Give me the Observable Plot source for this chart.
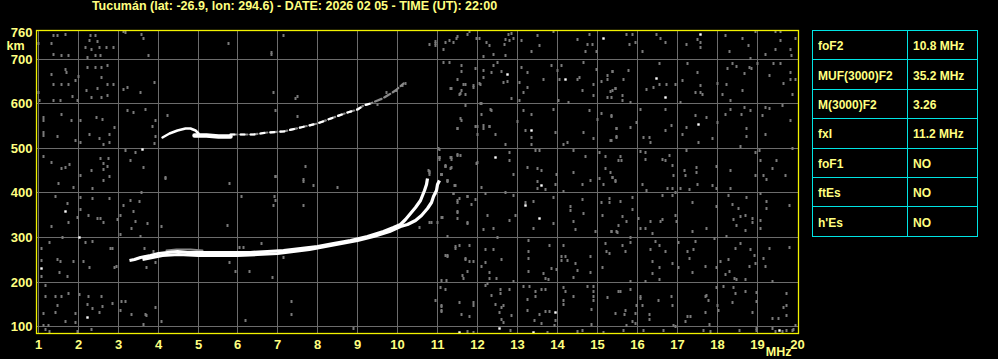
<!DOCTYPE html>
<html><head><meta charset="utf-8">
<script src="https://cdn.jsdelivr.net/npm/d3@7"></script>
<script src="https://cdn.jsdelivr.net/npm/@observablehq/plot@0.6"></script>
<style>
html,body{margin:0;padding:0;background:#000;}
#wrap{position:relative;width:998px;height:359px;overflow:hidden;background:#000;font-family:"Liberation Sans",Arial,sans-serif;font-weight:bold;}
#title{position:absolute;left:0;top:0;width:589px;text-align:center;color:#ffff80;font-size:12.5px;line-height:1;white-space:nowrap;}
#chart{position:absolute;left:0;top:0;}
#tbl{position:absolute;left:812px;top:30px;border-collapse:collapse;table-layout:fixed;color:#ffff80;font-size:12px;}
#tbl td{border:1px solid #00e4e4;height:29.4px;padding:2px 0 0 5px;vertical-align:middle;white-space:nowrap;box-sizing:border-box;}
</style></head>
<body><div id="wrap"><div id="chart"></div><div id="title"></div><table id="tbl"><colgroup><col style="width:95px"><col style="width:70px"></colgroup><tbody></tbody></table></div>
<script>
const titleText = "Tucumán (lat: -26.9, lon: 294.6) - DATE: 2026 02 05 - TIME (UT): 22:00";
const xTicks = [1,2,3,4,5,6,7,8,9,10,11,12,13,14,15,16,17,18,19,20];
const yTicks = [100,200,300,400,500,600,700,760];
const gridXValues = [1,2,3,4,5,6,7,8,9,10,11,12,13,14,15,16,17,18,19];
const gridYValues = [100,200,300,400,500,600,700];
const paramNames = ["foF2","MUF(3000)F2","M(3000)F2","fxI","foF1","ftEs","h'Es"];
const paramValues = ["10.8 MHz","35.2 MHz","3.26","11.2 MHz","NO","NO","NO"];

// F-layer echo traces [frequency MHz, virtual height km]
const oTrace = [[3.28,249],[3.4,251],[3.57,255],[3.82,260],[4.0,264],[4.23,267],[4.48,268],[4.73,267],[5.07,266],[5.48,266],[5.9,266],[6.32,267],[6.73,268],[7.15,272],[7.57,276],[7.98,281],[8.4,287],[8.82,294],[9.23,302],[9.65,314],[9.9,323],[10.07,330],[10.2,340],[10.32,353],[10.45,367],[10.57,383],[10.67,405],[10.72,420],[10.75,432]];
const xTrace = [[3.6,250],[3.85,255],[4.1,259],[4.5,261],[5.0,260],[5.5,260],[6.0,260],[6.5,261],[7.0,264],[7.4,268],[7.8,273],[8.2,279],[8.6,286],[9.0,293],[9.4,302],[9.8,313],[10.07,324],[10.25,330],[10.44,338],[10.6,350],[10.73,365],[10.83,378],[10.9,391],[10.96,405],[11.0,418],[11.03,428]];
const lowerFringe = [[4.2,272],[4.45,274],[4.8,273],[5.1,270]];
const upperBump = [[4.12,525],[4.28,534],[4.48,541],[4.69,545],[4.82,545],[4.94,540],[5.0,533]];
const upperBlob = [[4.92,529],[5.2,528],[5.5,527],[5.82,527]];
const upperTail = [[5.82,530],[6.15,532],[6.4,532],[6.73,536],[7.15,538],[7.57,547],[7.98,555],[8.4,569],[8.73,581],[8.98,588],[9.15,596],[9.32,601],[9.61,611],[9.73,618],[9.94,629],[10.15,645]];
const upperStart = [[3.61,497]];

// background noise echoes
const noiseLeft = [[1.38,752],[1.48,752],[1.69,756],[1.02,734],[1.33,734],[1.38,711],[1.58,709],[1.77,709],[2.31,752],[2.44,752],[2.29,741],[2.48,740],[2.18,726],[2.33,722],[2.53,727],[2.71,726],[2.89,726],[2.56,707],[2.43,707],[2.23,704],[1.69,677],[1.72,670],[1.33,666],[1.38,642],[1.58,644],[1.77,642],[1.94,651],[2.02,661],[2.24,681],[2.43,681],[2.58,681],[2.74,685],[2.58,659],[2.74,644],[2.89,644],[2.21,629],[2.33,614],[2.49,633],[2.58,614],[2.74,618],[1.86,615],[1.98,608],[1.57,608],[1.38,608],[1.0,625],[1.04,607],[1.13,570],[1.13,562],[1.59,576],[1.83,562],[2.06,562],[2.47,568],[2.62,564],[2.91,547],[2.78,532],[1.13,536],[1.13,528],[1.48,526],[1.94,518],[2.06,513],[2.29,530],[2.53,523],[2.63,508],[2.78,513],[1.13,482],[1.33,468],[1.58,455],[1.69,458],[1.78,464],[2.56,478],[2.64,467],[2.73,460],[2.75,478],[2.63,452],[2.07,440],[2.33,451],[1.52,422],[1.89,413],[2.35,409],[2.63,428],[2.78,437],[1.43,392],[2.06,389],[2.36,387],[2.78,387],[1.74,377],[2.06,362],[2.27,350],[2.48,343],[2.57,343],[2.63,334],[1.33,324],[1.77,333],[1.98,346],[1.62,300],[1.29,290],[1.08,275],[1.08,249],[1.49,250],[1.55,247],[1.88,247],[2.13,247],[2.28,232],[2.18,288],[2.36,292],[2.82,275],[2.95,236],[1.73,213],[1.53,221],[1.08,213],[1.19,193],[1.19,169],[1.43,167],[1.58,167],[1.77,175],[1.49,148],[1.44,131],[1.69,111],[2.03,173],[2.26,169],[2.58,169],[2.24,149],[1.93,130],[1.93,109],[2.36,141],[2.53,131],[2.61,145],[2.86,152],[1.13,130],[1.13,104],[1.27,102],[1.18,93],[1.29,89],[2.33,94],[1.98,89],[3.08,156],[3.19,156],[3.06,137],[3.33,128],[3.68,127],[3.72,125],[3.63,106],[4.08,111],[3.94,143],[3.9,647],[3.55,625],[3.23,636],[3.13,632],[4.23,573],[3.69,586],[3.38,581],[3.23,585],[3.94,563],[3.86,548],[3.94,526],[3.9,510],[3.63,456],[3.44,491],[3.19,495],[3.32,473],[4.19,432],[3.14,762],[3.18,760],[3.58,754],[3.63,745],[3.77,709],[4.19,434],[3.53,380],[3.58,402],[3.3,382],[3.13,372],[3.38,359],[3.05,350],[2.98,340],[3.44,335],[3.73,331],[3.33,320],[4.08,324],[3.07,307],[3.55,303],[3.65,275],[3.88,268],[2.86,275],[2.92,234],[3.72,234],[3.94,245]];
const noiseMid = [[5.77,735],[6.83,715],[6.85,710],[7.13,752],[6.9,625],[7.48,615],[7.44,612],[6.94,585],[7.48,571],[7.69,459],[7.65,429],[6.94,436],[9.48,599],[9.72,625],[9.97,629],[10.11,640],[10.19,645],[5.78,422],[6.94,437],[7.63,426],[7.88,417],[8.48,413],[6.92,391],[6.94,382],[6.9,372],[7.63,372],[6.08,391],[5.73,327],[5.78,245],[6.03,277],[6.13,277],[6.59,286],[7.13,256],[5.94,225],[6.28,225],[6.86,210],[6.19,115],[7.33,156],[7.33,128],[8.88,96],[10.78,447],[10.78,442],[10.79,446],[10.8,333],[10.53,322],[10.83,333],[10.77,450],[10.79,733],[10.94,739],[10.94,735],[10.93,730]];
const noiseRight = [[11.19,737],[11.29,741],[11.38,736],[11.15,722],[11.48,751],[11.8,761],[12.04,745],[12.15,706],[12.3,731],[12.4,711],[12.69,707],[12.78,741],[12.83,758],[12.9,745],[13.08,741],[13.35,716],[13.48,752],[13.53,730],[13.9,761],[14.48,743],[14.69,716],[14.75,733],[14.86,733],[14.8,756],[14.96,718],[11.15,693],[11.28,693],[11.58,686],[11.58,672],[11.94,678],[11.48,655],[11.65,644],[11.88,637],[11.33,633],[11.58,629],[11.69,620],[11.55,620],[12.07,644],[12.15,674],[12.15,659],[12.34,670],[12.4,686],[12.48,693],[12.58,672],[12.63,648],[12.75,650],[12.83,611],[13.03,648],[13.08,681],[13.23,669],[13.23,637],[13.13,625],[13.03,607],[13.63,655],[13.83,686],[14.0,674],[14.05,655],[14.09,685],[14.48,655],[14.54,659],[14.61,629],[14.65,693],[14.88,642],[14.96,676],[15.1,649],[15.23,655],[15.23,664],[15.38,672],[15.44,633],[15.32,628],[14.9,618],[15.23,614],[15.34,614],[14.02,607],[14.27,602],[11.69,597],[12.08,600],[12.34,585],[11.58,562],[11.48,545],[11.94,549],[12.08,575],[12.15,545],[12.28,549],[12.43,530],[12.69,508],[13.0,560],[13.13,585],[13.33,575],[13.2,540],[13.33,525],[13.33,508],[13.88,588],[13.94,535],[14.15,508],[14.23,512],[14.63,535],[14.88,521],[14.98,564],[14.78,585],[15.09,579],[15.34,572],[15.48,544],[15.48,527],[15.32,518],[11.04,497],[11.03,476],[11.19,460],[11.32,454],[11.33,476],[11.48,485],[11.09,441],[11.97,467],[12.78,490],[12.78,472],[12.9,441],[13.44,494],[13.53,494],[13.48,454],[13.58,450],[13.23,456],[13.97,441],[14.38,445],[14.39,495],[14.69,482],[15.04,490],[15.19,482],[15.32,445],[15.18,454],[15.04,433],[15.38,435],[15.53,472],
[15.73,754],[15.88,754],[15.8,733],[15.94,738],[16.13,716],[16.48,754],[16.58,746],[16.69,738],[17.23,733],[17.5,743],[17.58,736],[17.58,726],[18.19,752],[18.3,716],[18.63,746],[18.78,730],[18.94,761],[19.19,711],[19.44,722],[19.58,761],[19.44,761],[19.58,741],[19.81,722],[19.84,707],[19.94,746],[18.83,701],[15.38,672],[15.65,655],[15.78,674],[15.44,633],[15.36,629],[15.63,618],[15.63,607],[15.83,602],[16.23,631],[16.4,637],[16.55,642],[16.73,644],[16.94,642],[16.55,691],[17.13,652],[17.25,691],[17.5,670],[17.44,624],[17.57,625],[17.63,621],[17.58,640],[17.08,602],[18.0,646],[18.11,620],[18.22,644],[18.33,607],[18.25,678],[18.38,691],[18.48,683],[18.63,629],[18.68,668],[18.85,679],[19.0,691],[19.3,664],[19.4,691],[19.58,691],[19.65,646],[19.82,670],[19.82,655],[19.94,655],[19.88,620],[18.8,681],[15.34,573],[15.47,544],[15.48,525],[15.34,518],[15.83,547],[15.98,558],[16.08,588],[16.15,525],[16.3,525],[16.33,512],[16.69,588],[16.84,551],[16.69,540],[17.23,547],[17.13,530],[17.44,573],[17.53,514],[17.73,570],[17.88,523],[18.0,557],[18.19,576],[18.33,588],[18.6,576],[18.68,592],[18.73,544],[18.73,527],[18.83,585],[19.13,573],[19.19,592],[19.3,589],[19.19,530],[19.63,597],[19.82,562],[18.58,505],[15.57,482],[15.59,473],[15.36,435],[15.44,426],[16.08,493],[16.19,490],[16.19,476],[16.61,476],[16.69,473],[16.8,485],[16.88,462],[16.9,438],[17.23,495],[17.17,450],[17.48,458],[17.48,445],[17.19,438],[17.98,460],[18.33,450],[18.94,490],[19.05,495],[19.08,473],[18.94,438],[19.15,439],[19.47,473],[19.38,454],[19.69,438],[19.88,499],
[11.25,428],[11.42,416],[11.4,398],[11.73,393],[11.48,378],[11.83,375],[11.94,385],[12.19,398],[12.69,401],[12.88,394],[12.08,413],[11.48,357],[11.48,343],[11.11,344],[11.73,332],[12.23,350],[12.4,320],[12.15,318],[12.48,301],[12.79,338],[12.95,350],[13.19,378],[13.4,381],[13.4,321],[13.88,390],[13.88,331],[13.5,425],[13.48,409],[13.69,407],[13.94,420],[14.13,403],[14.32,370],[14.32,361],[14.38,336],[14.44,318],[14.61,385],[14.65,353],[14.93,314],[15.12,350],[15.09,379],[15.29,388],[15.29,378],[15.35,314],[15.47,314],[15.52,327],[15.15,418],[14.82,428],[14.61,420],[11.25,258],[11.44,275],[11.55,282],[11.69,251],[11.8,247],[11.9,247],[11.73,224],[11.65,208],[11.61,215],[11.08,204],[11.22,204],[12.19,273],[12.4,274],[12.58,251],[12.18,245],[12.08,236],[12.28,221],[12.28,209],[12.47,208],[12.88,202],[13.27,269],[13.27,254],[13.27,224],[13.27,293],[13.65,219],[13.69,209],[13.77,206],[13.83,230],[13.97,229],[13.8,282],[14.08,258],[14.08,249],[14.19,258],[14.23,249],[14.13,282],[14.4,211],[14.48,226],[14.44,241],[14.82,221],[14.82,258],[15.12,232],[15.2,286],[15.22,269],[15.29,264],[11.07,189],[11.19,184],[10.94,159],[11.08,147],[11.08,135],[11.55,154],[11.9,154],[11.88,147],[11.58,127],[11.8,124],[12.19,193],[12.25,196],[12.34,170],[12.57,174],[12.57,184],[12.78,184],[12.44,150],[12.58,144],[12.65,147],[12.55,133],[12.83,126],[12.58,117],[12.63,109],[13.15,191],[13.3,191],[13.44,178],[13.44,169],[13.58,184],[13.69,184],[13.23,162],[13.23,137],[13.53,127],[13.69,135],[13.8,135],[13.94,115],[13.92,103],[13.58,107],[13.42,115],[14.15,187],[14.19,178],[14.15,159],[14.15,150],[14.38,169],[14.73,191],[14.9,191],[14.9,179],[14.9,169],[14.9,159],[14.83,139],[14.83,105],[14.61,92],[15.23,165],[15.52,178],[15.44,130],[11.9,88],[11.73,89],[12.82,92],[13.73,88],[14.48,89],[15.15,88],[11.08,145],[11.08,137],
[15.44,428],[16.13,418],[16.23,405],[16.75,410],[16.86,410],[16.94,400],[17.08,410],[17.3,407],[17.5,420],[17.86,416],[17.97,410],[18.33,410],[19.23,430],[16.63,394],[16.86,394],[15.88,389],[15.58,381],[15.88,363],[15.61,348],[15.73,336],[16.03,343],[16.33,336],[16.58,336],[16.63,340],[16.07,321],[16.19,321],[16.38,308],[16.94,349],[16.98,336],[17.36,379],[17.38,314],[17.73,321],[17.97,370],[18.28,394],[18.36,373],[18.53,364],[18.57,348],[18.69,349],[18.73,390],[18.4,340],[18.48,327],[18.69,316],[18.88,343],[18.88,334],[19.08,398],[19.08,338],[19.08,321],[19.23,381],[19.23,366],[19.79,372],[17.92,299],[18.23,303],[15.34,314],[15.5,311],[15.83,301],[15.61,282],[15.69,269],[15.83,288],[16.33,273],[16.44,291],[16.55,282],[16.69,269],[16.38,247],[16.55,232],[16.38,219],[16.55,206],[16.88,241],[17.03,290],[17.25,269],[17.3,254],[17.4,273],[17.44,291],[17.03,232],[17.38,221],[17.69,236],[17.97,232],[18.07,246],[18.28,251],[18.19,217],[18.3,224],[18.42,209],[18.48,206],[18.69,207],[18.8,236],[18.44,276],[18.58,286],[18.83,273],[18.92,259],[18.94,241],[19.15,252],[19.19,236],[19.3,276],[19.38,202],[19.79,278],[15.83,202],[16.19,202],[15.57,179],[15.83,184],[16.07,169],[16.07,163],[16.53,159],[16.13,147],[15.98,148],[15.67,127],[15.69,137],[15.88,112],[15.94,107],[16.3,127],[16.3,117],[16.84,167],[16.88,148],[16.94,100],[17.25,124],[17.33,124],[17.19,112],[17.69,167],[17.78,159],[17.73,170],[17.97,187],[18.0,148],[18.03,137],[17.69,133],[17.8,105],[18.15,191],[18.4,189],[18.44,174],[18.36,154],[18.69,179],[18.97,176],[18.97,156],[18.86,133],[18.98,97],[19.73,174],[19.73,148],[19.65,144],[19.73,126],[19.53,118],[19.36,118],[19.94,103],[19.89,94],[19.36,96],[19.44,90],[19.61,90],[19.73,92],[19.86,92],[18.55,92],[18.98,92],[17.65,92],[17.82,89],[15.65,92],[16.15,92],[16.65,92],[16.9,103],[15.94,130],[15.73,103],
[11.03,479],[11.19,461],[11.33,479],[11.48,486],[11.33,456],[11.08,441],[11.23,426],[11.44,417],[11.4,398],[11.5,382],[11.48,359],[11.73,392],[11.73,333],[11.55,387],[11.08,346],[11.0,333],[11.44,279],[11.78,283],[11.69,253],[11.23,260],[11.23,428],[11.08,442],[10.95,398],[11.23,303],[11.19,260],
[11.32,635],[11.57,622],[11.69,643],[11.88,640],[12.03,645],[12.07,600],[12.32,586],[11.98,532],[12.13,551],[12.3,548],[11.57,566],[11.48,544],[11.98,548],[11.98,469],[11.57,484],[11.32,479],[11.19,459],[11.05,480],[11.02,499],[11.08,441],[11.46,746],[11.74,755],[11.97,745],[12.21,737],[12.67,733],[12.77,754],[12.7,743]];
const noiseWhite = [[1.69,359],[2.03,301],[1.08,230],[2.24,120],[12.73,666],[14.19,655],[15.13,746],[13.33,539],[12.44,480],[16.48,657],[16.69,614],[17.58,756],[17.53,553],[13.19,372],[13.53,343],[13.58,416],[13.94,133],[12.54,96],[13.38,87],[11.55,87],[19.54,92]];

const yellowText = "#ffff80";
const frameYellow = "#f2f200";
const gridGray = "#6c6c6c";
const noiseGray = "#7a7a7a";

const speck = {draw(ctx){ ctx.moveTo(-1,-1.5); ctx.lineTo(1,-1.5); ctx.lineTo(1,1.5); ctx.lineTo(-1,1.5); ctx.closePath(); }};
const speckW = {draw(ctx){ ctx.moveTo(-1.2,-1.2); ctx.lineTo(1.2,-1.2); ctx.lineTo(1.2,1.2); ctx.lineTo(-1.2,1.2); ctx.closePath(); }};
const noiseAll = noiseLeft.concat(noiseMid, noiseRight);
const fx = d => d[0], fy = d => d[1];

const chart = Plot.plot({
  width: 998, height: 359,
  marginLeft: 36, marginRight: 200, marginTop: 30, marginBottom: 26,
  x: {domain: [0.96, 20.02], round: true},
  y: {domain: [85, 764], round: true},
  style: {background: "transparent", color: yellowText, fontFamily: "'Liberation Sans', Arial, sans-serif", fontSize: "13px", fontWeight: "bold"},
  marks: [
    Plot.gridX(gridXValues, {stroke: gridGray, strokeOpacity: 1, strokeWidth: 1}),
    Plot.gridY(gridYValues, {stroke: gridGray, strokeOpacity: 1, strokeWidth: 1}),
    Plot.dot(noiseAll, {x: fx, y: fy, symbol: speck, r: 1, fill: noiseGray, stroke: null, clip: true}),
    Plot.dot(noiseWhite, {x: fx, y: fy, symbol: speckW, r: 1, fill: "#ffffff", stroke: null, clip: true}),
    Plot.line(lowerFringe, {x: fx, y: fy, stroke: "#8a8a8a", strokeWidth: 2}),
    Plot.line(xTrace, {x: fx, y: fy, stroke: "#ffffff", strokeWidth: 3.2, strokeLinecap: "butt", strokeLinejoin: "round"}),
    Plot.line(oTrace, {x: fx, y: fy, stroke: "#ffffff", strokeWidth: 3.2, strokeLinecap: "butt", strokeLinejoin: "round"}),
    Plot.line(upperTail, {x: fx, y: fy, stroke: "#8a8a8a", strokeWidth: 2.2, strokeDasharray: "7,3"}),
    Plot.line(upperTail.slice(0, 12), {x: fx, y: fy, stroke: "#ffffff", strokeWidth: 2.2, strokeDasharray: "4,6"}),
    Plot.line(upperBump, {x: fx, y: fy, stroke: "#ffffff", strokeWidth: 2.5}),
    Plot.line(upperBlob, {x: fx, y: fy, stroke: "#ffffff", strokeWidth: 4.5}),
    Plot.dot(upperStart, {x: fx, y: fy, symbol: speckW, r: 1, fill: "#ffffff", stroke: null}),
    Plot.frame({stroke: frameYellow, strokeWidth: 1.3}),
    Plot.axisX(xTicks, {tickSize: 0, tickPadding: 6, label: null, tickFormat: d => String(d)}),
    Plot.axisY(yTicks, {tickSize: 0, tickPadding: 4, label: null, tickFormat: d => String(d)}),
    Plot.text([{x: 20, y: 85, t: "MHz"}], {x: "x", y: "y", text: "t", dx: -6, dy: 18, textAnchor: "end", fontSize: 12.5}),
    Plot.text([{x: 0.96, y: 764, t: "km"}], {x: "x", y: "y", text: "t", dx: -30, dy: 15, textAnchor: "start", fontSize: 12.5})
  ]
});
document.getElementById("chart").appendChild(chart);

document.getElementById("title").textContent = titleText;
const tb = document.querySelector("#tbl tbody");
paramNames.forEach((n, i) => {
  const tr = document.createElement("tr");
  const a = document.createElement("td"); a.textContent = n;
  const b = document.createElement("td"); b.textContent = paramValues[i];
  tr.appendChild(a); tr.appendChild(b); tb.appendChild(tr);
});
</script></body></html>
